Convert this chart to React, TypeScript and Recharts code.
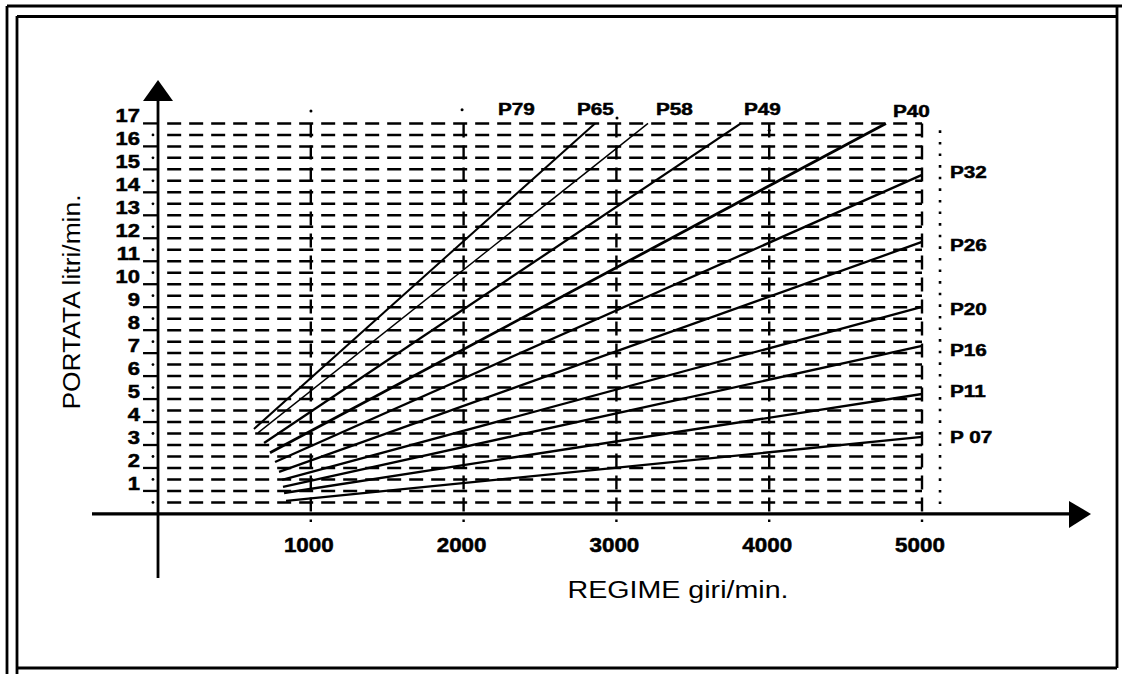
import React from "react";
import { LineChart, Line, XAxis, YAxis, ReferenceLine, ReferenceDot } from "recharts";

// pump curves: flow (litri/min) vs engine speed (giri/min)
const seriesNames = ["P65", "P58", "P49", "P40", "P32", "P26", "P20", "P16", "P11", "P07"];
const startRpm = [628, 654, 694, 733, 766, 792, 812, 818, 825, 838];
const startFlow = [3.7, 3.53, 3.09, 2.66, 2.26, 1.83, 1.48, 1.18, 0.91, 0.57];
const endRpm = [2860, 3207, 3815, 4764, 5000, 5000, 5000, 5000, 5000, 5000];
const endFlow = [17, 17, 17, 17, 14.76, 11.84, 9.01, 7.31, 5.22, 3.35];
const strokeWidths = [2, 1.4, 2.3, 2.8, 2.3, 2.3, 2.3, 2.3, 2.3, 2.3];

// curve labels (top row and right column), anchored in data units
const topLabels = ["P79", "P65", "P58", "P49", "P40"];
const topLabelRpm = [2225, 2742, 3259, 3835, 4810];
const topLabelFlow = [17.37, 17.37, 17.37, 17.37, 17.28];
const rightLabels = ["P32", "P26", "P20", "P16", "P11", "P 07"];
const rightLabelFlow = [14.63, 11.45, 8.66, 6.88, 5.09, 3.09];
const rightLabelRpm = 5183;

const xTicks = [1000, 2000, 3000, 4000, 5000];
const yTicks = [1, 2, 3, 4, 5, 6, 7, 8, 9, 10, 11, 12, 13, 14, 15, 16, 17];
const halfTicks = [0.5, 1.5, 2.5, 3.5, 4.5, 5.5, 6.5, 7.5, 8.5, 9.5, 10.5, 11.5, 12.5, 13.5, 14.5, 15.5, 16.5];
const gridRows = [...halfTicks, ...yTicks];

// scan specks above the grid
const speckRpm = [1001, 1990, 3004, 4000];
const speckFlow = [17.54, 17.59, 17.24, 16.7];

const FONT = "'Liberation Sans', Arial, sans-serif";
const X_DOMAIN: [number, number] = [-432, 6106];
const Y_DOMAIN: [number, number] = [-2.79, 18.89];

const curves = seriesNames.map((name, i) => ({
  name,
  width: strokeWidths[i],
  data: [
    { rpm: startRpm[i], flow: startFlow[i] },
    { rpm: endRpm[i], flow: endFlow[i] },
  ],
}));

function StretchText({ x, y, anchor, size, sx, children }: any) {
  return (
    <g transform={`translate(${x},${y}) scale(${sx},1)`}>
      <text
        x={0}
        y={0}
        textAnchor={anchor}
        fontSize={size}
        fontWeight="bold"
        fontFamily={FONT}
        fill="#000"
        stroke="#000"
        strokeWidth={0.5}
      >
        {children}
      </text>
    </g>
  );
}

export default function App() {
  return (
    <div style={{ position: "absolute", left: 0, top: 0, width: 1122, height: 674, background: "#fff" }}>
      <LineChart width={1122} height={674} margin={{ top: 80, right: 31, bottom: 96, left: 92 }}>
        <XAxis type="number" dataKey="rpm" domain={X_DOMAIN} allowDataOverflow hide />
        <YAxis type="number" dataKey="flow" domain={Y_DOMAIN} allowDataOverflow hide />

        {gridRows.map((v) => (
          <ReferenceLine
            key={`row-${v}`}
            segment={[{ x: 60, y: v }, { x: 5000, y: v }]}
            stroke="#000"
            strokeWidth={2.5}
            strokeDasharray="14 8"
          />
        ))}
        {xTicks.map((v) => (
          <ReferenceLine
            key={`col-${v}`}
            segment={[{ x: v, y: 17 }, { x: v, y: -0.35 }]}
            stroke="#000"
            strokeWidth={2.4}
            strokeDasharray="14 8"
          />
        ))}
        <ReferenceLine
          segment={[{ x: 5118, y: 16.7 }, { x: 5118, y: 0.4 }]}
          stroke="#000"
          strokeWidth={2.6}
          strokeDasharray="2.6 9"
        />

        {yTicks.map((v) => (
          <ReferenceLine key={`yt-${v}`} segment={[{ x: -98, y: v }, { x: 0, y: v }]} stroke="#000" strokeWidth={2.3} />
        ))}
        {halfTicks.map((v) => (
          <ReferenceDot key={`hd-${v}`} x={-33} y={v} r={1.4} fill="#000" stroke="none" />
        ))}
        {speckRpm.map((v, i) => (
          <ReferenceDot key={`sp-${i}`} x={v} y={speckFlow[i]} r={1.5} fill="#000" stroke="none" />
        ))}

        {/* axes with arrowheads */}
        <ReferenceLine segment={[{ x: 0, y: -2.79 }, { x: 0, y: 18.1 }]} stroke="#000" strokeWidth={2.8} />
        <ReferenceLine segment={[{ x: -432, y: 0 }, { x: 5980, y: 0 }]} stroke="#000" strokeWidth={3.2} />
        <ReferenceDot
          x={0}
          y={18.89}
          r={0}
          shape={(p: any) => <polygon points={`${p.cx},${p.cy} ${p.cx - 15},${p.cy + 21} ${p.cx + 15},${p.cy + 21}`} fill="#000" />}
        />
        <ReferenceDot
          x={6106}
          y={0}
          r={0}
          shape={(p: any) => <polygon points={`${p.cx},${p.cy} ${p.cx - 22},${p.cy - 13} ${p.cx - 22},${p.cy + 14}`} fill="#000" />}
        />

        {yTicks.map((v) => (
          <ReferenceDot
            key={`yl-${v}`}
            x={0}
            y={v}
            r={0}
            shape={(p: any) => (
              <StretchText x={p.cx - 18} y={p.cy - 1} anchor="end" size={18} sx={1.22}>
                {v}
              </StretchText>
            )}
          />
        ))}
        {xTicks.map((v) => (
          <ReferenceDot
            key={`xl-${v}`}
            x={v}
            y={0}
            r={0}
            shape={(p: any) => (
              <StretchText x={p.cx - 2} y={p.cy + 38} anchor="middle" size={20} sx={1.12}>
                {v}
              </StretchText>
            )}
          />
        ))}

        {curves.map((c) => (
          <Line
            key={c.name}
            name={c.name}
            data={c.data}
            dataKey="flow"
            type="linear"
            stroke="#000"
            strokeWidth={c.width}
            dot={false}
            activeDot={false}
            isAnimationActive={false}
          />
        ))}

        {topLabels.map((t, i) => (
          <ReferenceDot
            key={`tl-${t}`}
            x={topLabelRpm[i]}
            y={topLabelFlow[i]}
            r={0}
            shape={(p: any) => (
              <StretchText x={p.cx} y={p.cy} anchor="start" size={17} sx={1.22}>
                {t}
              </StretchText>
            )}
          />
        ))}
        {rightLabels.map((t, i) => (
          <ReferenceDot
            key={`rl-${t}`}
            x={rightLabelRpm}
            y={rightLabelFlow[i]}
            r={0}
            shape={(p: any) => (
              <StretchText x={p.cx} y={p.cy} anchor="start" size={17} sx={1.22}>
                {t}
              </StretchText>
            )}
          />
        ))}
      </LineChart>

      {/* page frame and axis titles */}
      <svg width={1122} height={674} style={{ position: "absolute", left: 0, top: 0, pointerEvents: "none" }}>
        <g stroke="#000" strokeWidth={2.8}>
          <line x1={7} y1={6} x2={1122} y2={6} />
          <line x1={17} y1={16.5} x2={1117} y2={16.5} />
          <line x1={7} y1={6} x2={7} y2={674} />
          <line x1={17} y1={16} x2={17} y2={674} />
          <line x1={1117} y1={6} x2={1117} y2={668} />
          <line x1={17} y1={668} x2={1117} y2={668} />
        </g>
        <text x={678} y={598} textAnchor="middle" fontSize={23} fontFamily={FONT} textLength={221} lengthAdjust="spacingAndGlyphs">
          REGIME giri/min.
        </text>
        <g transform="translate(80,302) rotate(-90)">
          <text x={0} y={0} textAnchor="middle" fontSize={23} fontFamily={FONT} textLength={215} lengthAdjust="spacingAndGlyphs">
            PORTATA litri/min.
          </text>
        </g>
      </svg>
    </div>
  );
}
